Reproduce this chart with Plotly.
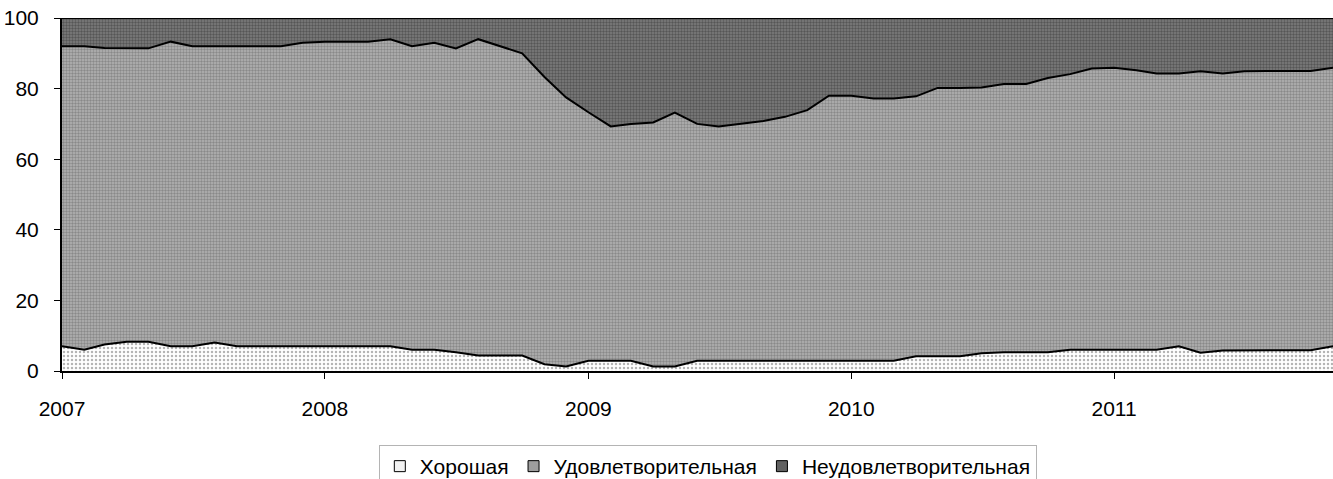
import pandas as pd
import plotly.graph_objects as go

# Monthly observations, Jan 2007 .. Nov 2011
months = pd.date_range("2007-01-01", periods=59, freq="MS")

good = [7, 6, 7.5, 8.3, 8.3, 7, 7, 8.1, 7, 7, 7, 7, 7, 7, 7, 7, 6, 6, 5.3, 4.4,
        4.4, 4.4, 1.9, 1.3, 2.9, 2.9, 2.9, 1.3, 1.3, 2.9, 2.9, 2.9, 2.9, 2.9, 2.9,
        2.9, 2.9, 2.9, 2.9, 4.2, 4.2, 4.2, 5, 5.3, 5.3, 5.3, 6, 6, 6, 6, 6, 7,
        5.2, 5.8, 5.9, 5.9, 5.9, 5.9, 7]

satisfactory = [85, 86, 84, 83.1, 83.1, 86.3, 85, 83.9, 85, 85, 85, 86, 86.3, 86.3,
                86.3, 87, 86, 87, 86.1, 89.6, 87.6, 85.6, 81.4, 76.2, 70.4, 66.4,
                67.1, 69.1, 71.9, 67.1, 66.4, 67.1, 67.9, 69.1, 71, 75.1, 75.1,
                74.3, 74.3, 73.6, 76, 76, 75.3, 76, 76, 77.7, 78.1, 79.7, 79.9,
                79.2, 78.3, 77.3, 79.7, 78.5, 79, 79.1, 79.1, 79.1, 78.9]

unsatisfactory = [8, 8, 8.5, 8.6, 8.6, 6.7, 8, 8, 8, 8, 8, 7, 6.7, 6.7, 6.7, 6, 8,
                  7, 8.6, 6, 8, 10, 16.7, 22.5, 26.7, 30.7, 30, 29.6, 26.8, 30,
                  30.7, 30, 29.2, 28, 26.1, 22, 22, 22.8, 22.8, 22.2, 19.8, 19.8,
                  19.7, 18.7, 18.7, 17, 15.9, 14.3, 14.1, 14.8, 15.7, 15.7, 15.1,
                  15.7, 15.1, 15, 15, 15, 14.1]

series_names = ["Хорошая", "Удовлетворительная", "Неудовлетворительная"]
year_ticks = ["2007-01-01", "2008-01-01", "2009-01-01", "2010-01-01", "2011-01-01"]
year_labels = ["2007", "2008", "2009", "2010", "2011"]
y_ticks = [0, 20, 40, 60, 80, 100]

FONT = "Arial, 'Liberation Sans', sans-serif"

styles = [
    dict(fill="#f2f2f2", pat=dict(shape=".", fgcolor="#6a6a6a", bgcolor="#ffffff", size=4, solidity=0.3)),
    dict(fill="#9e9e9e", pat=dict(shape=".", fgcolor="#5e5e5e", bgcolor="#b4b4b4", size=3, solidity=0.5)),
    dict(fill="#616161", pat=dict(shape=".", fgcolor="#2e2e2e", bgcolor="#7e7e7e", size=3, solidity=0.5)),
]
values = [good, satisfactory, unsatisfactory]

fig = go.Figure()
for name, vals, st in zip(series_names, values, styles):
    fig.add_trace(go.Scatter(
        x=months, y=vals, name=name, stackgroup="one", mode="lines",
        line=dict(color="black", width=2),
        fillcolor=st["fill"], fillpattern=st["pat"], showlegend=False,
    ))
# legend entries drawn as small squares, as in the reference
for name, st in zip(series_names, styles):
    fig.add_trace(go.Scatter(
        x=[None], y=[None], name=name, mode="markers",
        marker=dict(symbol="square", size=11, color=st["fill"],
                    line=dict(color="black", width=1)),
        showlegend=True,
    ))

fig.update_layout(
    width=1333, height=479,
    margin=dict(l=62, r=0, t=18, b=108),
    paper_bgcolor="white", plot_bgcolor="white",
    font=dict(family=FONT, size=21, color="black"),
    showlegend=True,
    legend=dict(
        orientation="h", xref="container", yref="container",
        x=0.531, xanchor="center", y=0.071, yanchor="top",
        bordercolor="#b4b4b4", borderwidth=1, bgcolor="white",
        font=dict(family=FONT, size=21, color="black"),
        itemwidth=30, tracegroupgap=0, traceorder="normal",
    ),
    xaxis=dict(
        range=[months[0], months[-1]], tickvals=year_ticks, ticktext=year_labels,
        showgrid=False, zeroline=False, showline=True, linecolor="black", linewidth=2,
        ticks="outside", ticklen=6, tickcolor="black", tickwidth=1,
        tickfont=dict(size=21), ticklabelstandoff=12, automargin=False,
    ),
    yaxis=dict(
        range=[0, 100], tickvals=y_ticks, showgrid=False, zeroline=False,
        showline=True, linecolor="black", linewidth=2,
        ticks="outside", ticklen=6, tickcolor="black", tickwidth=1,
        tickfont=dict(size=21), ticklabelstandoff=11, automargin=False,
    ),
)

fig.write_html(
    "out.html",
    config={"displayModeBar": False},
    post_script="document.body.style.margin='0';document.body.style.overflow='hidden';",
)
